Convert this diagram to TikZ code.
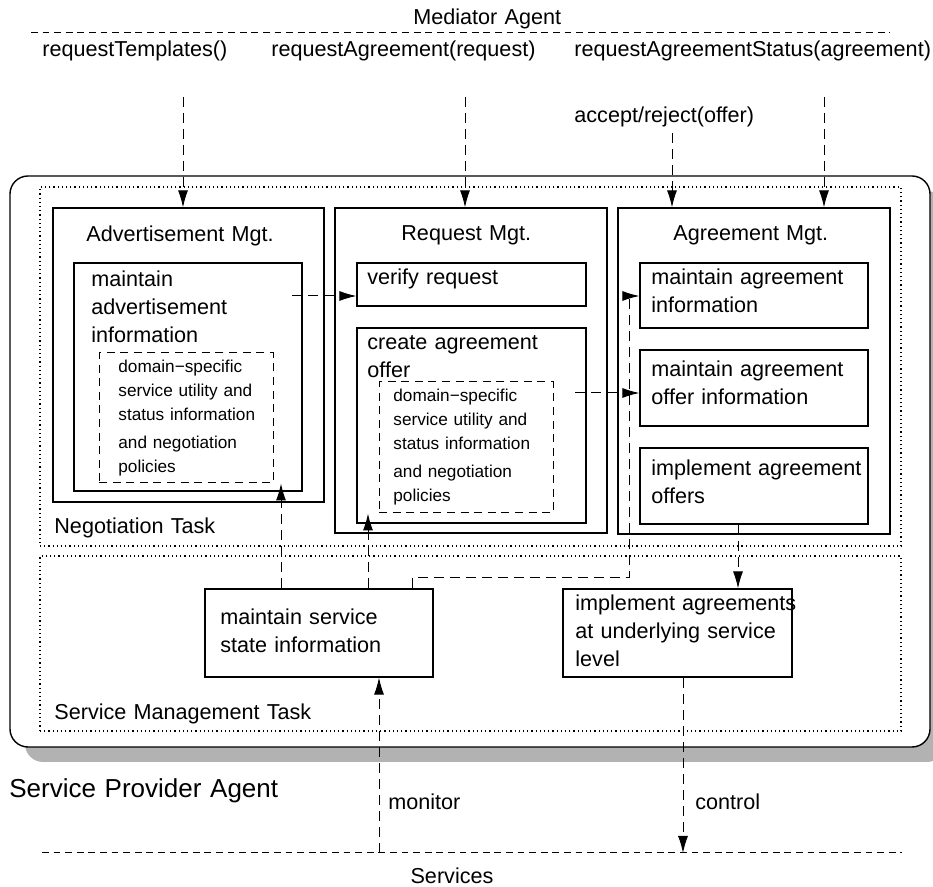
\documentclass[tikz,border=0pt]{standalone}
\usepackage{fontspec}
\setmainfont{Liberation Sans}
\usepackage{tikz}
\usetikzlibrary{arrows.meta,fit,shadows}
\newcommand\lblfont{\fontsize{10.8}{13.8}\selectfont}
\newcommand\polfont{\fontsize{8.6}{12}\selectfont}
\newcommand\agentfont{\fontsize{13}{16}\selectfont}
\tikzset{
  box/.style={draw,line width=0.6pt,inner sep=0pt},
  policy/.style={draw,line width=0.5pt,inner sep=0pt,dash pattern=on 4pt off 2.8pt},
  task/.style={draw,line width=0.6pt,inner sep=0pt,dash pattern=on 0.6pt off 1.5pt},
  agent/.style={draw,line width=0.7pt,inner sep=0pt,rounded corners=9pt,fill=white,
    drop shadow={shadow xshift=7.5pt,shadow yshift=-7.5pt,fill=black!30,opacity=1}},
  lbl/.style={anchor=base west,inner sep=0pt,align=left,text width=160pt,font=\lblfont},
  pol/.style={lbl,font=\polfont},
  msg/.style={-{Latex[length=8.5pt,width=5pt]},line width=0.5pt,dash pattern=on 5pt off 3pt},
  border/.style={line width=0.5pt,dash pattern=on 3.4pt off 2.4pt}
}

\begin{document}
\begin{tikzpicture}[x=0.5pt,y=-0.5pt]
  \useasboundingbox (0,0) rectangle (933,887);
  \clip (0,0) rectangle (933,887);
  % mediator side
  \node[lbl] (med) at (413,25) {Mediator Agent};
  \draw[border] (31,33) -- (890,33);
  \node[lbl] (rtl) at (42,57) {requestTemplates()};
  \node[lbl] (ral) at (271,57) {requestAgreement(request)};
  \node[lbl] (rsl) at (574,57) {requestAgreementStatus(agreement)};
  \node[lbl] (arl) at (574,123) {accept/reject(offer)};
  \coordinate (rt) at (183,97);
  \coordinate (ra) at (465,97);
  \coordinate (ar) at (672,133);
  \coordinate (rs) at (824,97);

  % service provider agent
  \node[agent,fit={(10,176) (930,747)}] (spa) {};
  \node[task,fit={(40,187) (901,546)}] (negtask) {};
  \node[task,fit={(40,556) (901,731)}] (svctask) {};
  \node[lbl] at (54,534) {Negotiation Task};
  \node[lbl] at (54,720) {Service Management Task};
  \node[lbl,font=\agentfont] (spal) at (9,798) {Service Provider Agent};

  % advertisement
  \node[box,fit={(53,208) (324,502)}] (adv) {};
  \node[lbl] at (86,242) {Advertisement Mgt.};
  \node[box,fit={(74,263) (302,491)}] (advinfo) {};
  \node[lbl] at (91,287) {maintain\\advertisement\\information};
  \node[policy,fit={(99,353) (273,483)}] (advpol) {};
  \node[pol] at (118,373) {domain−specific\\service utility and\\status information\\[2pt]and negotiation\\policies};

  % request
  \node[box,fit={(335,208) (607,533)}] (req) {};
  \node[lbl] at (401,241) {Request Mgt.};
  \node[box,fit={(357,263) (586,306)}] (verify) {};
  \node[lbl] at (367,285) {verify request};
  \node[box,fit={(357,328) (586,523)}] (create) {};
  \node[lbl] at (367,350) {create agreement\\offer};
  \node[policy,fit={(379,382) (553,513)}] (reqpol) {};
  \node[pol] at (393,402) {domain−specific\\service utility and\\status information\\[2pt]and negotiation\\policies};

  % agreement
  \node[box,fit={(618,208) (890,534)}] (agr) {};
  \node[lbl] at (673,241) {Agreement Mgt.};
  \node[box,fit={(640,263) (868,328)}] (agrinfo) {};
  \node[lbl] at (651,285) {maintain agreement\\information};
  \node[box,fit={(640,350) (868,426)}] (offinfo) {};
  \node[lbl] at (651,377) {maintain agreement\\offer information};
  \node[box,fit={(640,448) (868,524)}] (implof) {};
  \node[lbl] at (651,476) {implement agreement\\offers};

  % service management
  \node[box,fit={(205,589) (433,677)}] (svc) {};
  \node[lbl] at (220,625) {maintain service\\state information};
  \node[box,fit={(563,589) (792,677)}] (implag) {};
  \node[lbl] at (575,611) {implement agreements\\at underlying service\\level};

  % services
  \draw[border] (42,853) -- (902,853);
  \node[lbl,anchor=base,text width=] (srv) at (452,884) {Services};
  \coordinate (mon) at (379,853);
  \coordinate (ctl) at (683,853);
  \node[lbl] at (388,810) {monitor};
  \node[lbl] at (695,810) {control};

  % messages
  \draw[msg] (rt) -- (rt |- adv.north);
  \draw[msg] (ra) -- (ra |- req.north);
  \draw[msg] (ar) -- (ar |- agr.north);
  \draw[msg] (rs) -- (rs |- agr.north);
  \coordinate (advout) at (292,296);
  \coordinate (polout) at (575,393);
  \draw[msg] (advout) -- (verify.west |- advout);
  \draw[msg] (polout) -- (offinfo.west |- polout);
  \draw[msg] (281,0 |- svc.north) -- (281,0 |- advpol.south);
  \draw[msg] (368,0 |- svc.north) -- (368,0 |- reqpol.south);
  \draw[msg] (412,0 |- svc.north) |- (629,578) |- (agrinfo.west |- 0,296);
  \draw[msg] (738,0 |- implof.south) -- (738,0 |- implag.north);
  \draw[msg] (mon) -- (mon |- svc.south);
  \draw[msg] (683,0 |- implag.south) -- (ctl);
\end{tikzpicture}
\end{document}
